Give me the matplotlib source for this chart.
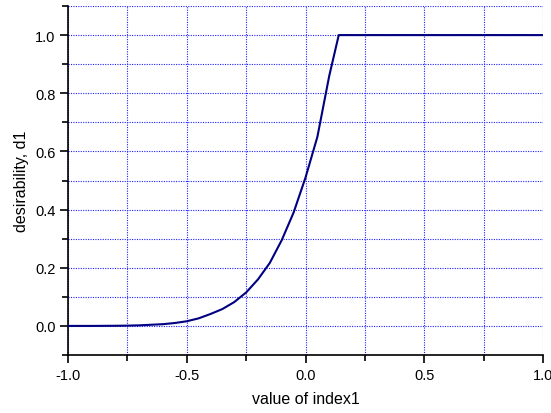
import matplotlib
matplotlib.use("Agg")
import matplotlib.pyplot as plt
from matplotlib.ticker import MultipleLocator

plt.rcParams['font.family'] = ['Liberation Sans', 'DejaVu Sans']

# data
x_vals = [-1.0, -0.9, -0.8, -0.75, -0.7, -0.65, -0.6, -0.55, -0.5, -0.45, -0.4,
          -0.35, -0.3, -0.25, -0.2, -0.15, -0.1, -0.05, 0.0, 0.05, 0.1, 0.14, 1.0]
d1_vals = [0.0, 0.0, 0.0005, 0.001, 0.002, 0.004, 0.006, 0.010, 0.016, 0.026, 0.041,
           0.058, 0.082, 0.115, 0.160, 0.217, 0.295, 0.39, 0.51, 0.65, 0.86, 1.0, 1.0]
xlabel_text = "value of index1"
ylabel_text = "desirability, d1"

fig = plt.figure(figsize=(5.51, 4.14), dpi=100)
ax = fig.add_axes([68/551, 1-356/414, (543-68)/551, (356-7)/414])

ax.plot(x_vals, d1_vals, color='#000080', lw=1.5, solid_joinstyle='round', zorder=3)

ax.set_xlim(-1.0, 1.0)
ax.set_ylim(-0.1, 1.1)
ax.xaxis.set_minor_locator(MultipleLocator(0.25))
ax.yaxis.set_minor_locator(MultipleLocator(0.1))
ax.set_yticks([0.0, 0.2, 0.4, 0.6, 0.8, 1.0])
ax.set_xticks([-1.0, -0.5, 0.0, 0.5, 1.0])
ax.set_xticklabels(['-1.0', '-0.5', '0.0', '0.5', '1.0'])
ax.set_yticklabels(['0.0', '0.2', '0.4', '0.6', '0.8', '1.0'])

ax.grid(True, which='both', color='#2020FF', linestyle=(0, (1, 1.2)), linewidth=0.8)
for s in ['top', 'right']:
    ax.spines[s].set_visible(False)
for s in ['left', 'bottom']:
    ax.spines[s].set_linewidth(1.2)

ax.tick_params(which='major', direction='out', length=6, width=1.2, labelsize=10.5, pad=3)
ax.tick_params(which='minor', direction='out', length=4.5, width=1.2)

ax.set_xlabel(xlabel_text, fontsize=11.5, labelpad=7)
ax.set_ylabel(ylabel_text, fontsize=11.5, labelpad=4)

fig.savefig("out.png", dpi=100)
